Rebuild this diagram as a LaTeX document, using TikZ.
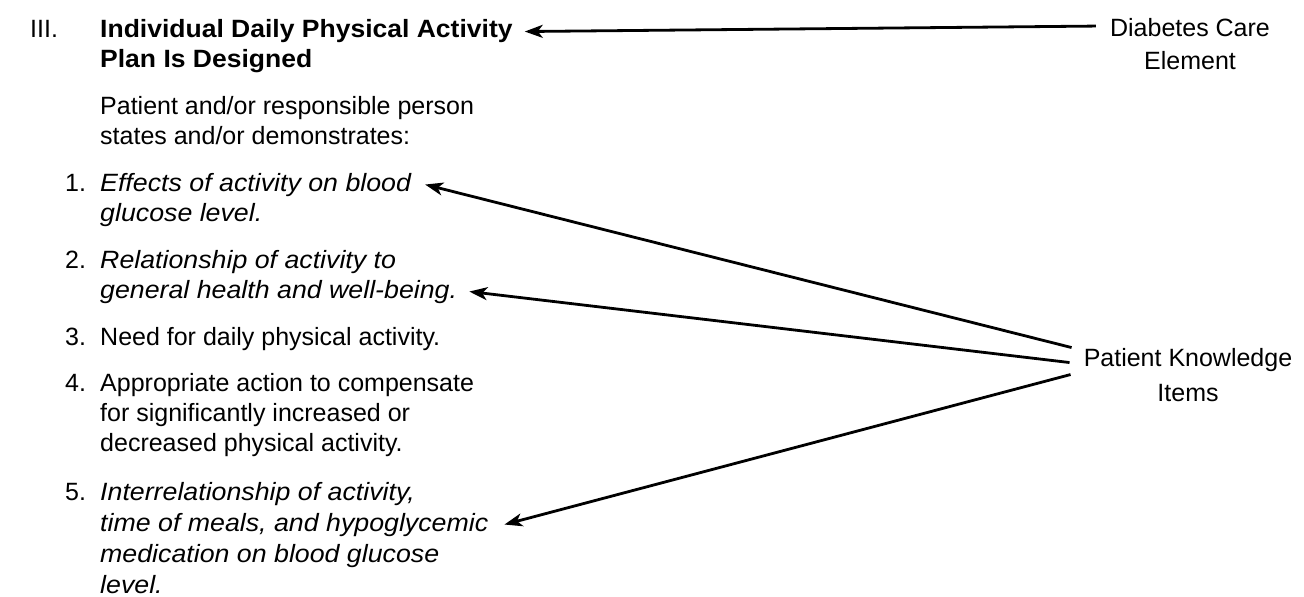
\documentclass[tikz,border=0pt]{standalone}
\usepackage{fontspec}
\setmainfont{Liberation Sans}[ItalicFeatures={FakeStretch=1.07},BoldFeatures={FakeStretch=1.06}]
\usetikzlibrary{arrows.meta}
\tikzset{
  txt/.style={inner sep=0pt, anchor=base west, font=\fontsize{25}{30}\selectfont},
  ttl/.style={txt, font=\fontsize{25}{30}\selectfont\bfseries},
  itl/.style={txt, font=\fontsize{25}{30}\selectfont\itshape},
  lbl/.style={inner sep=0pt, anchor=base, font=\fontsize{25}{30}\selectfont},
  arr/.style={line width=2.8pt, -{Stealth[length=18pt,width=13pt,inset=5pt]}},
}
\begin{document}
\begin{tikzpicture}[x=1pt,y=-1pt]
\useasboundingbox (0,0) rectangle (1304,597);
% heading
\node[txt] (rn) at (30,37) {III.};
\node[ttl] (t1) at (100,37) {Individual Daily Physical Activity};
\node[ttl] (t2) at (100,67) {Plan Is Designed};
\node[txt] (p1) at (100,114) {Patient and/or responsible person};
\node[txt] (p2) at (100,144) {states and/or demonstrates:};
% item 1
\node[txt] (n1) at (65,191) {1.};
\node[itl] (a1) at (100,191) {Effects of activity on blood};
\node[itl] (b1) at (100,221) {glucose level.};
% item 2
\node[txt] (n2) at (65,268) {2.};
\node[itl] (a2) at (100,268) {Relationship of activity to};
\node[itl] (b2) at (100,298) {general health and well-being.};
% item 3
\node[txt] (n3) at (65,345) {3.};
\node[txt] (a3) at (100,345) {Need for daily physical activity.};
% item 4
\node[txt] (n4) at (65,391) {4.};
\node[txt] (a4) at (100,391) {Appropriate action to compensate};
\node[txt] (b4) at (100,421) {for significantly increased or};
\node[txt] (c4) at (100,451) {decreased physical activity.};
% item 5
\node[txt] (n5) at (65,500) {5.};
\node[itl] (a5) at (100,500) {Interrelationship of activity,};
\node[itl] (b5) at (100,531) {time of meals, and hypoglycemic};
\node[itl] (c5) at (100,562) {medication on blood glucose};
\node[itl] (d5) at (100,593) {level.};
% right labels
\node[lbl] (dc1) at (1190,36) {Diabetes Care};
\node[lbl] (dc2) at (1190,69) {Element};
\node[lbl] (pk1) at (1188,366) {Patient Knowledge};
\node[lbl] (pk2) at (1188,401) {Items};
% connectors
\draw[arr] ([xshift=-14pt,yshift=1pt]dc1.west) -- ([xshift=12pt,yshift=-1pt]t1.east);
\draw[arr] ([xshift=-12pt,yshift=12pt]pk1.west) -- ([xshift=14pt]a1.east);
\draw[arr] ([xshift=-14pt,yshift=-3pt]pk1.west) -- ([xshift=12pt]b2.east);
\draw[arr] ([xshift=-13pt,yshift=-15pt]pk1.west) -- ([xshift=16pt]b5.east);
\end{tikzpicture}
\end{document}
